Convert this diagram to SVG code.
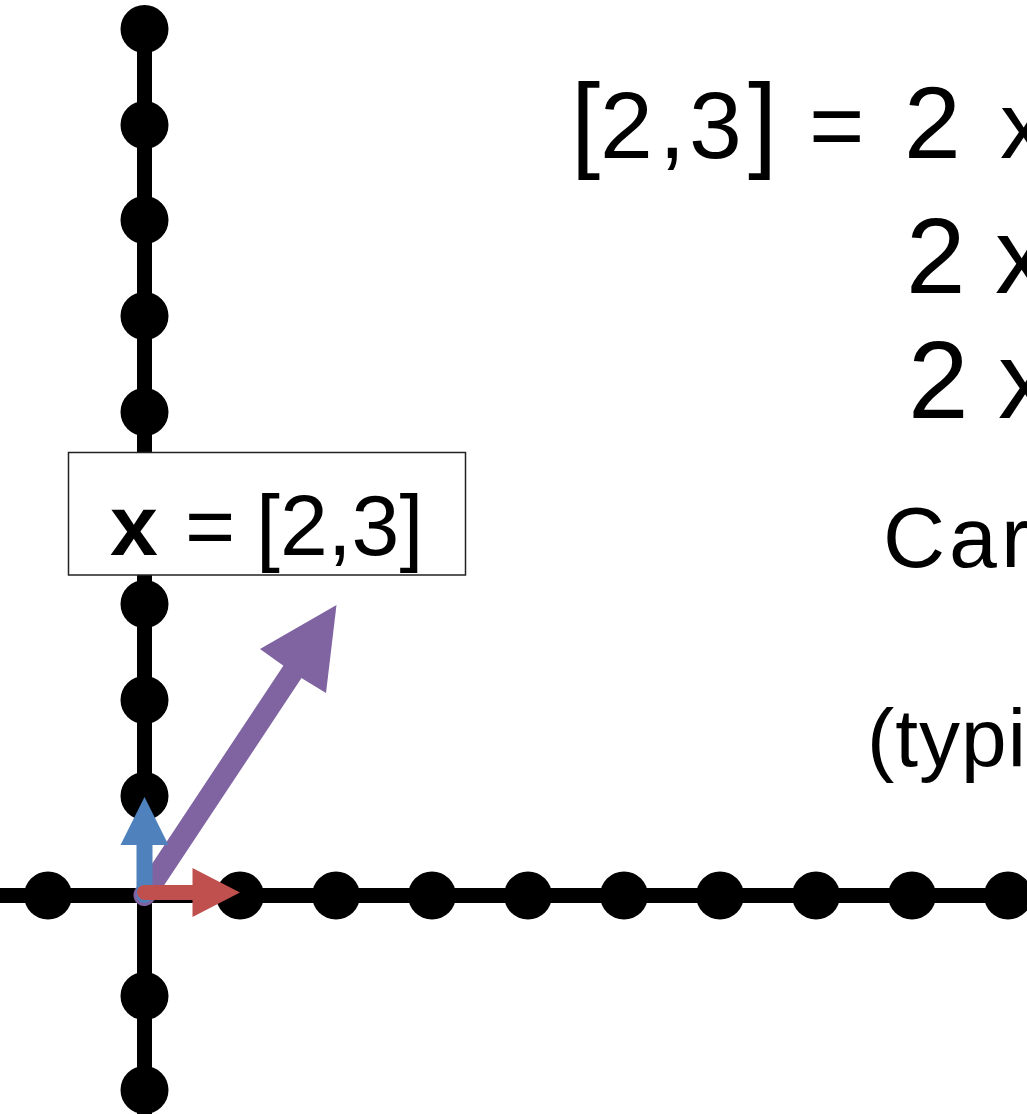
<svg xmlns="http://www.w3.org/2000/svg" width="1027" height="1114" viewBox="0 0 1027 1114">
<style>
.ax{stroke:#000;stroke-width:15;fill:none}
.dot{fill:#000}
.t{font-family:"Liberation Sans",Arial,sans-serif;fill:#000}
</style>
<rect width="1027" height="1114" fill="#fff"/>
<g id="axes">
<line class="ax" x1="144.5" y1="29" x2="144.5" y2="1114"/>
<line class="ax" x1="0" y1="895.5" x2="1027" y2="895.5"/>
</g>
<g id="dots">
<circle class="dot" cx="144.5" cy="29" r="24"/>
<circle class="dot" cx="144.5" cy="125" r="24"/>
<circle class="dot" cx="144.5" cy="220" r="24"/>
<circle class="dot" cx="144.5" cy="316" r="24"/>
<circle class="dot" cx="144.5" cy="412" r="24"/>
<circle class="dot" cx="144.5" cy="508" r="24"/>
<circle class="dot" cx="144.5" cy="604" r="24"/>
<circle class="dot" cx="144.5" cy="700" r="24"/>
<circle class="dot" cx="144.5" cy="796" r="24"/>
<circle class="dot" cx="144.5" cy="996" r="24"/>
<circle class="dot" cx="144.5" cy="1090" r="24"/>
<circle class="dot" cx="48" cy="895.5" r="24"/>
<circle class="dot" cx="240" cy="895.5" r="24"/>
<circle class="dot" cx="336" cy="895.5" r="24"/>
<circle class="dot" cx="432" cy="895.5" r="24"/>
<circle class="dot" cx="528" cy="895.5" r="24"/>
<circle class="dot" cx="624" cy="895.5" r="24"/>
<circle class="dot" cx="720" cy="895.5" r="24"/>
<circle class="dot" cx="816" cy="895.5" r="24"/>
<circle class="dot" cx="912" cy="895.5" r="24"/>
<circle class="dot" cx="1008" cy="895.5" r="24"/>
</g>
<g id="label-box">
<rect x="68.5" y="452.5" width="397" height="122.5" fill="#fff" stroke="#222" stroke-width="1.5"/>
<text class="t" y="555" font-size="86"><tspan x="110" font-weight="bold">x</tspan><tspan x="185">=</tspan><tspan x="256">[2,3]</tspan></text>
</g>
<g id="connectors">
<path d="M144.5,895 L293,671" stroke="#8064A2" stroke-width="22" stroke-linecap="round" fill="none"/>
<polygon points="336.5,605 326,693 303,679 281,664 260,649" fill="#8064A2"/>
<line x1="144.5" y1="895" x2="144.5" y2="840" stroke="#4F81BD" stroke-width="16" stroke-linecap="round"/>
<polygon points="144.5,797 168.5,845 120.5,845" fill="#4F81BD"/>
<line x1="144.5" y1="892.5" x2="198" y2="892.5" stroke="#C0504D" stroke-width="15" stroke-linecap="round"/>
<polygon points="240,892.5 192.5,868 192.5,917" fill="#C0504D"/>
</g>
<g id="equations">
<text class="t" y="158" font-size="95"><tspan x="571" font-size="105">[</tspan><tspan x="600">2</tspan><tspan x="659">,</tspan><tspan x="689">3</tspan><tspan x="748" font-size="105">]</tspan><tspan x="809">=</tspan><tspan x="904" font-size="102">2</tspan><tspan x="1000">x</tspan></text>
<text class="t" y="293" font-size="107"><tspan x="906">2</tspan><tspan x="995">x</tspan></text>
<text class="t" y="418" font-size="109"><tspan x="908">2</tspan><tspan x="998">x</tspan></text>
<text class="t" x="883" y="567" font-size="86" letter-spacing="4">Car</text>
<text class="t" x="867" y="766" font-size="82" letter-spacing="1">(typi</text>
</g>
</svg>
